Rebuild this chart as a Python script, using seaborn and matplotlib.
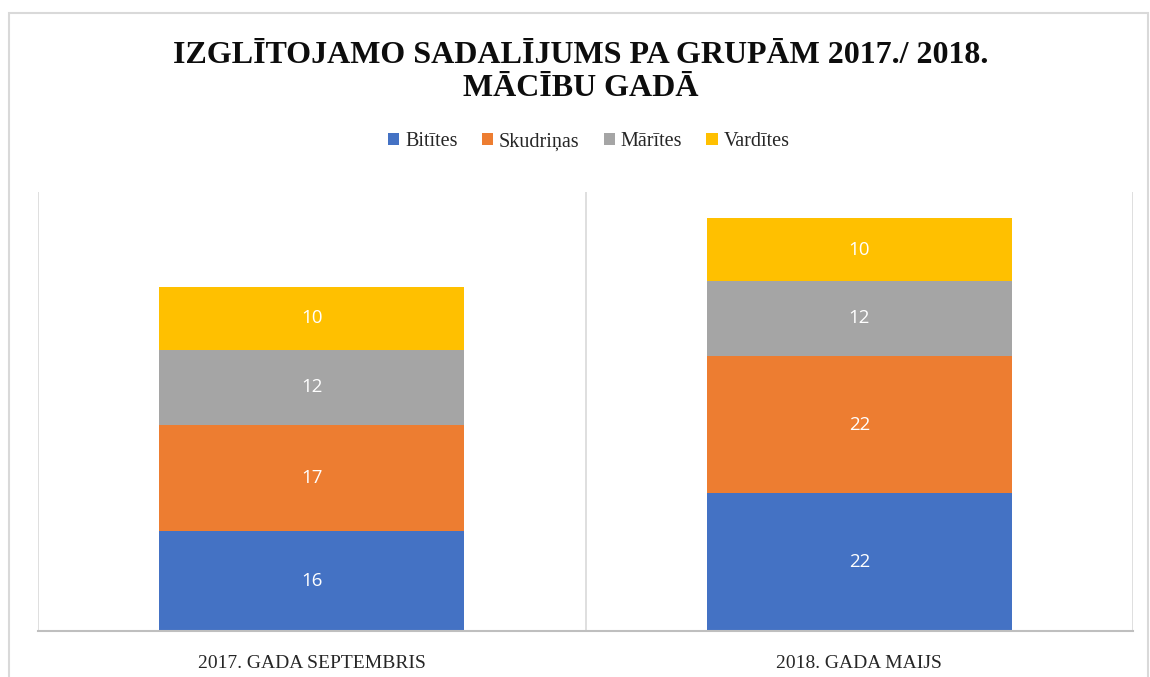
import matplotlib

matplotlib.use("Agg")
import matplotlib.pyplot as plt
import seaborn as sns
from matplotlib.patches import Rectangle

periods = ["2017. GADA SEPTEMBRIS", "2018. GADA MAIJS"]
groups = ["Bitītes", "Skudriņas", "Mārītes", "Vardītes"]
bititis = [16, 22]
skudrinas = [17, 22]
maritis = [12, 12]
varditis = [10, 10]
colors = ["#4472C4", "#ED7D31", "#A5A5A5", "#FFC000"]

sns.set_theme(style="white")
plt.rcParams["font.family"] = ["Liberation Serif", "DejaVu Serif"]

fig = plt.figure(figsize=(11.5, 6.77), dpi=100)
ax = fig.add_axes([38 / 1150, 1 - 631 / 677, (1133 - 38) / 1150, (631 - 192) / 677])

# outer chart border
fig.patches.append(Rectangle((9 / 1150, -0.05), (1148 - 9) / 1150, 1.05 - 13 / 677,
                             transform=fig.transFigure, fill=False,
                             edgecolor="#d9d9d9", linewidth=1.5))

series = [bititis, skudrinas, maritis, varditis]
bottom = [0, 0]
for name, vals, col in zip(groups, series, colors):
    sns.barplot(x=periods, y=vals, bottom=bottom, color=col, width=0.557,
                label=name, ax=ax, saturation=1, linewidth=0)
    for i, v in enumerate(vals):
        ax.text(i, bottom[i] + v / 2, str(v), ha="center", va="center",
                color="white", fontsize=13.5, family=["Open Sans", "DejaVu Sans"])
    bottom = [b + v for b, v in zip(bottom, vals)]

handles, labels = ax.get_legend_handles_labels()
if ax.get_legend() is not None:
    ax.get_legend().remove()

ax.set_xlim(-0.5, 1.5)
ax.set_ylim(0, 70.2)
ax.set_yticks([])
for x in [-0.5, 0.5, 1.5]:
    ax.axvline(x, color="#d9d9d9", linewidth=1.2, zorder=0)
for s in ["top", "left", "right"]:
    ax.spines[s].set_visible(False)
ax.spines["bottom"].set_color("#bfbfbf")
ax.spines["bottom"].set_linewidth(1.5)
ax.tick_params(axis="x", length=0, pad=17, labelsize=14, labelcolor="#262626")
ax.set_xlabel("")
ax.set_ylabel("")

fig.text(0.505, 1 - 72 / 677,
         "IZGLĪTOJAMO SADALĪJUMS PA GRUPĀM 2017./ 2018.\nMĀCĪBU GADĀ",
         ha="center", va="center", fontsize=23, fontweight="bold",
         linespacing=1.2, color="#0d0d0d")

fig.legend(handles, labels, loc="center", bbox_to_anchor=(0.512, 1 - 142 / 677),
           ncol=4, frameon=False, fontsize=14.5, handlelength=0.55, handleheight=0.55,
           handletextpad=0.3, columnspacing=1.2)

fig.savefig("out.png", dpi=100, facecolor="white")
